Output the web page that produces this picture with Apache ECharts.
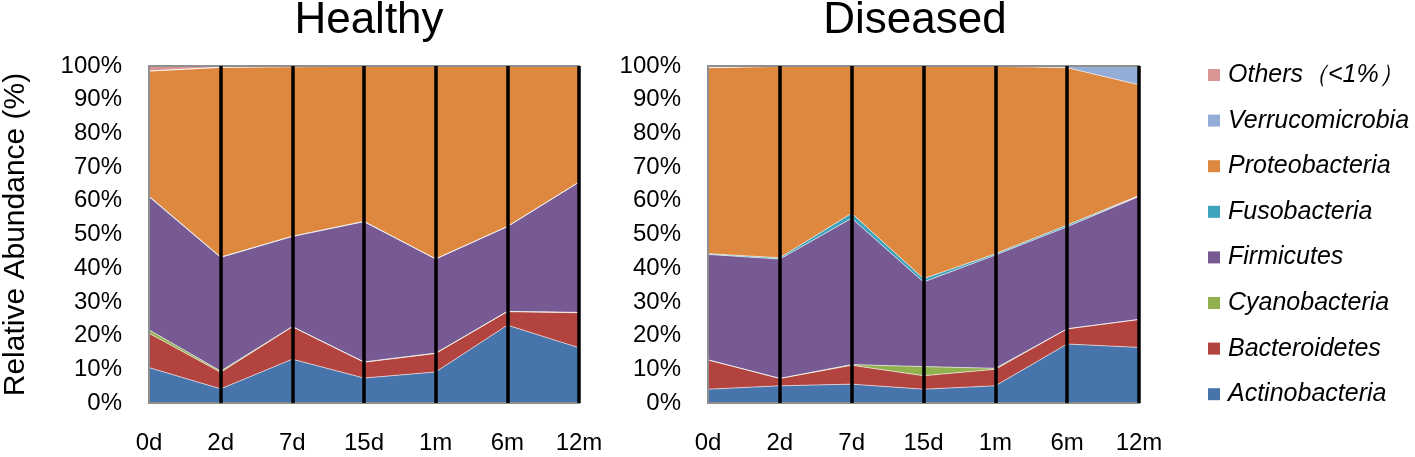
<!DOCTYPE html>
<html><head><meta charset="utf-8">
<script src="https://cdn.jsdelivr.net/npm/echarts@6/dist/echarts.min.js"></script>
<style>html,body{margin:0;padding:0;background:#fff}#c{width:1415px;height:457px}</style>
</head><body><div id="c"></div>
<script>
const categories = ['0d','2d','7d','15d','1m','6m','12m'];
const yTicks = ['0%','10%','20%','30%','40%','50%','60%','70%','80%','90%','100%'];
const phyla = ['Actinobacteria','Bacteroidetes','Cyanobacteria','Firmicutes','Fusobacteria','Proteobacteria','Verrucomicrobia','Others（<1%）'];
const colors = ['#4674AB','#B3433F','#91B04E','#775A93','#3CA3BA','#DE873F','#93ADD6','#D99694'];

// Healthy (% per phylum)
const hActinobacteria  = [10.5, 4.2, 13.0, 7.4, 9.2, 23.1, 16.4];
const hBacteroidetes   = [10.2, 4.9, 9.6, 4.7, 5.5, 4.0, 10.4];
const hCyanobacteria   = [1.0, 0.4, 0.1, 0.1, 0.1, 0.1, 0.1];
const hFirmicutes      = [39.5, 33.7, 26.7, 41.6, 27.9, 25.1, 38.6];
const hFusobacteria    = [0.2, 0.1, 0.1, 0.1, 0.1, 0.1, 0.1];
const hProteobacteria  = [37.1, 56.3, 50.3, 46.0, 57.1, 47.5, 34.3];
const hVerrucomicrobia = [0, 0, 0, 0, 0, 0, 0];
const hOthers          = [1.5, 0.4, 0.2, 0.1, 0.1, 0.1, 0.1];

// Diseased (% per phylum)
const dActinobacteria  = [4.1, 5.1, 5.6, 4.1, 5.1, 17.5, 16.5];
const dBacteroidetes   = [8.7, 2.2, 5.6, 4.0, 4.9, 4.5, 8.3];
const dCyanobacteria   = [0, 0, 0.2, 2.7, 0.3, 0, 0];
const dFirmicutes      = [31.3, 35.4, 43.4, 25.1, 33.6, 30.3, 36.5];
const dFusobacteria    = [0.2, 0.4, 1.5, 1.0, 0.4, 0.5, 0.3];
const dProteobacteria  = [55.2, 56.8, 43.6, 63.0, 55.6, 46.7, 32.8];
const dVerrucomicrobia = [0, 0, 0, 0, 0, 0.3, 5.5];
const dOthers          = [0.5, 0.1, 0.1, 0.1, 0.1, 0.2, 0.1];

const healthy = [hActinobacteria,hBacteroidetes,hCyanobacteria,hFirmicutes,hFusobacteria,hProteobacteria,hVerrucomicrobia,hOthers];
const diseased = [dActinobacteria,dBacteroidetes,dCyanobacteria,dFirmicutes,dFusobacteria,dProteobacteria,dVerrucomicrobia,dOthers];

const FONT = '"Liberation Sans", Arial, sans-serif';
const chart = echarts.init(document.getElementById('c'));

function xAx(gi){
  return {
    type:'category', gridIndex:gi, data:categories, boundaryGap:false, z:6,
    axisLine:{show:false}, axisTick:{show:false},
    axisLabel:{color:'#000', fontSize:24, fontFamily:FONT, margin:28},
    splitLine:{show:true, interval:(i)=>i>0, lineStyle:{color:'#000', width:3.5}}
  };
}
function yAx(gi, withName){
  const o = {
    type:'value', gridIndex:gi, min:0, max:100, interval:10, z:6,
    axisLine:{show:false}, axisTick:{show:false}, splitLine:{show:false},
    axisLabel:{color:'#000', fontSize:24, fontFamily:FONT, margin:27, padding:[6,0,0,0],
      formatter:(v)=>yTicks[Math.round(v/10)]}
  };
  if(withName){
    o.name='Relative Abundance (%)'; o.nameLocation='middle'; o.nameGap=118; o.nameRotate=90;
    o.nameTextStyle={color:'#000', fontSize:30, fontFamily:FONT};
  }
  return o;
}
const series=[];
[healthy, diseased].forEach((set, gi)=>{
  set.forEach((vals, k)=>{
    series.push({
      name:phyla[k], type:'line', xAxisIndex:gi, yAxisIndex:gi, stack:'s'+gi,
      data:vals, showSymbol:false, symbol:'none', smooth:false,
      lineStyle:{width:0.8, color:'rgba(255,255,255,0.75)'},
      areaStyle:{color:colors[k], opacity:1},
      itemStyle:{color:colors[k]},
      emphasis:{disabled:true}, animation:false
    });
  });
});

chart.setOption({
  animation:false,
  title:[
    {text:'Healthy', left:364, top:-6, textAlign:'center', textStyle:{fontSize:44, fontWeight:'normal', color:'#000', fontFamily:FONT}},
    {text:'Diseased', left:910, top:-6, textAlign:'center', textStyle:{fontSize:44, fontWeight:'normal', color:'#000', fontFamily:FONT}}
  ],
  grid:[
    {left:148, top:66, width:431, height:337, show:true, z:5, borderColor:'#8f8f8f', borderWidth:2, backgroundColor:'transparent'},
    {left:708, top:66, width:431, height:337, show:true, z:5, borderColor:'#8f8f8f', borderWidth:2, backgroundColor:'transparent'}
  ],
  xAxis:[xAx(0), xAx(1)],
  yAxis:[yAx(0,true), yAx(1,false)],
  legend:{
    orient:'vertical', left:1203, top:57, itemWidth:12, itemHeight:12, itemGap:19.6,
    icon:'rect', selectedMode:false,
    data:phyla.slice().reverse(),
    textStyle:{color:'#000', fontSize:25, fontStyle:'italic', fontFamily:FONT, lineHeight:26, padding:[0,0,0,3]}
  },
  series:series
});
</script></body></html>
